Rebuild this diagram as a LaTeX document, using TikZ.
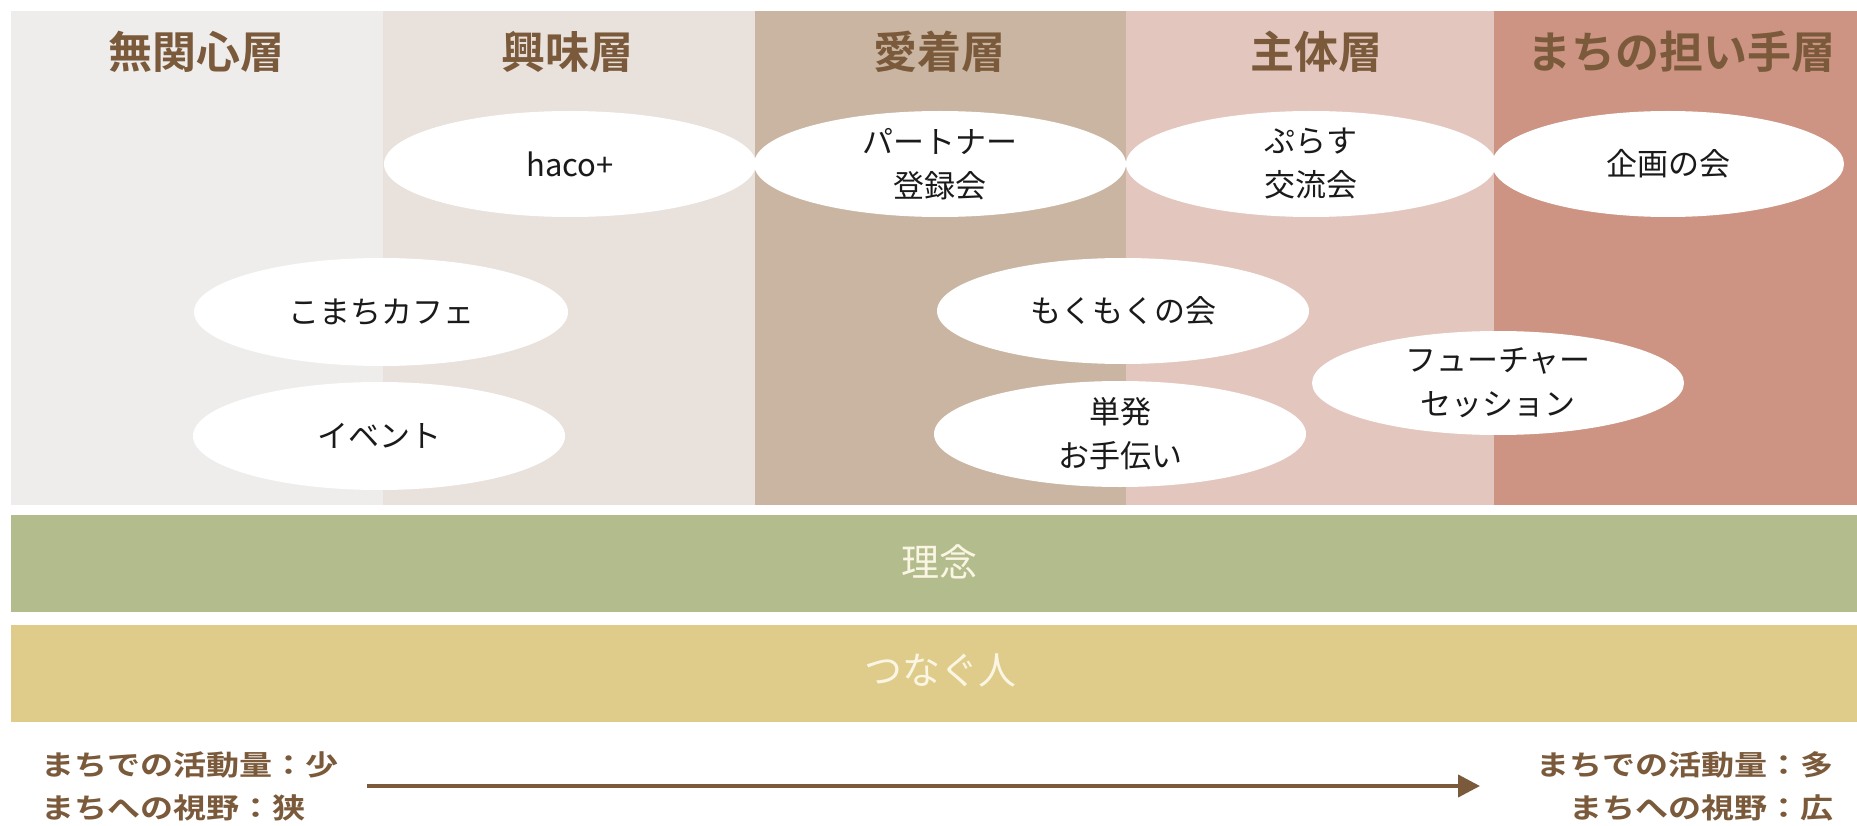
\documentclass[tikz,border=0pt]{standalone}
\usepackage{fontspec}
\usetikzlibrary{shapes.geometric,arrows.meta}
\newfontfamily\jp{Noto Sans CJK JP}
\newfontfamily\jpb{Noto Sans CJK JP Bold}
\newfontfamily\jpw{Noto Sans CJK JP Bold}[FakeStretch=1.18]
\definecolor{colA}{HTML}{EEEDEC}
\definecolor{colB}{HTML}{E9E1DC}
\definecolor{colC}{HTML}{C9B5A2}
\definecolor{colD}{HTML}{E3C6BE}
\definecolor{colE}{HTML}{CD9383}
\definecolor{bandG}{HTML}{B3BC8C}
\definecolor{bandY}{HTML}{DFCB8A}
\definecolor{headbrown}{HTML}{7A5A3A}
\definecolor{bandtext}{HTML}{FBF6E4}
\definecolor{ink}{HTML}{1A1A1A}
\tikzset{
  bubble/.style={ellipse, fill=white, inner sep=0pt, align=center, text=ink,
    font=\jp\fontsize{31}{44}\selectfont},
  heading/.style={text=headbrown, inner sep=0pt, font=\jpb\fontsize{44}{50}\selectfont},
  bandlabel/.style={text=bandtext, inner sep=0pt, font=\jp\fontsize{38}{44}\selectfont},
  sidetext/.style={text=headbrown, inner sep=0pt, font=\jpw\fontsize{28}{43}\selectfont},
  arrowline/.style={draw=headbrown, line width=4pt, -{Triangle[length=22pt,width=22pt]}}
}
\begin{document}
\begin{tikzpicture}[x=1pt,y=-1pt]
\useasboundingbox (0,0) rectangle (1857,826);
\fill[white] (0,0) rectangle (1857,826);
% columns
\fill[colA] (11,11) rectangle (383,505);
\fill[colB] (383,11) rectangle (755,505);
\fill[colC] (755,11) rectangle (1126,505);
\fill[colD] (1126,11) rectangle (1494,505);
\fill[colE] (1494,11) rectangle (1857,505);
% headings
\node[heading] (h1) at (196,52) {無関心層};
\node[heading] (h2) at (567,52) {興味層};
\node[heading] (h3) at (939,52) {愛着層};
\node[heading] (h4) at (1316,52) {主体層};
\node[heading] (h5) at (1681,52) {まちの担い手層};
% bubbles
\node[bubble, minimum width=372pt, minimum height=106pt] (haco) at (570,164) {haco+};
\node[bubble, minimum width=372pt, minimum height=106pt] (partner) at (940,164) {パートナー\\登録会};
\node[bubble, minimum width=370pt, minimum height=106pt] (plus) at (1311,164) {ぷらす\\交流会};
\node[bubble, minimum width=352pt, minimum height=106pt] (kikaku) at (1668,164) {企画の会};
\node[bubble, minimum width=374pt, minimum height=108pt] (komachi) at (381,312) {こまちカフェ};
\node[bubble, minimum width=372pt, minimum height=108pt] (event) at (379,436) {イベント};
\node[bubble, minimum width=372pt, minimum height=106pt] (moku) at (1123,311) {もくもくの会};
\node[bubble, minimum width=372pt, minimum height=106pt] (tanpatsu) at (1120,434) {単発\\お手伝い};
\node[bubble, minimum width=372pt, minimum height=104pt] (future) at (1498,383) {フューチャー\\セッション};
% bands
\fill[bandG] (11,515) rectangle (1857,612);
\fill[bandY] (11,625) rectangle (1857,722);
\node[bandlabel] (rinen) at (939,562) {理念};
\node[bandlabel] (tsunagu) at (940,670) {つなぐ人};
% bottom
\node[sidetext, anchor=west, align=left] (left) at (41,786) {まちでの活動量：少\\まちへの視野：狭};
\node[sidetext, anchor=east, align=right] (right) at (1834,786) {まちでの活動量：多\\まちへの視野：広};
\coordinate (as) at (367,786);
\coordinate (ae) at (1480,786);
\draw[arrowline] (as) -- (ae);
\end{tikzpicture}
\end{document}
